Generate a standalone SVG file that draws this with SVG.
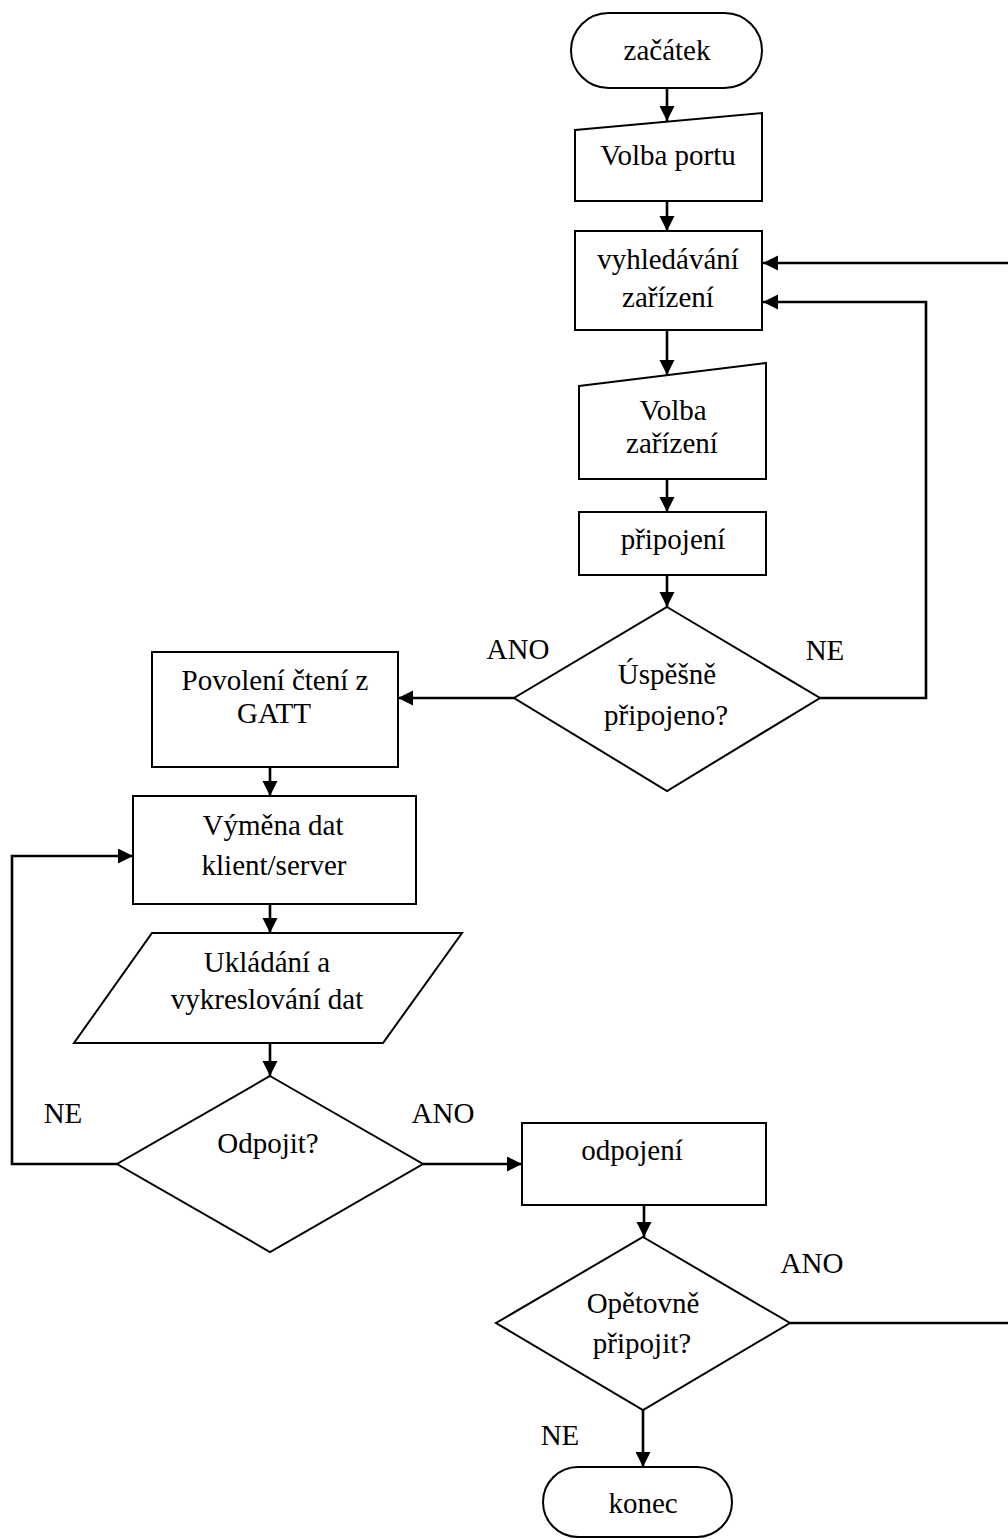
<svg xmlns="http://www.w3.org/2000/svg" width="1008" height="1539" viewBox="0 0 1008 1539">
  <defs>
    <marker id="arrow" markerUnits="userSpaceOnUse" markerWidth="16" markerHeight="16" refX="15" refY="7.5" orient="auto">
      <path d="M0,0 L15,7.5 L0,15 z" fill="#000"/>
    </marker>
    <style>
      .shape { fill: #fff; stroke: #000; stroke-width: 2; }
      .conn { fill: none; stroke: #000; stroke-width: 2.6; }
      .arr { marker-end: url(#arrow); }
      .c { text-anchor: middle; }
    </style>
  </defs>
  <rect width="1008" height="1539" fill="#fff"/>

  <!-- connectors -->
  <g id="connectors">
    <path class="conn arr" d="M667,88 V121"/>
    <path class="conn arr" d="M667,201 V231"/>
    <path class="conn arr" d="M667,330 V375"/>
    <path class="conn arr" d="M667,479 V512"/>
    <path class="conn arr" d="M667,575 V607"/>
    <path class="conn arr" d="M514,698 H398"/>
    <path class="conn arr" d="M820,698 H926 V302 H763"/>
    <path class="conn arr" d="M270,767 V796"/>
    <path class="conn arr" d="M270,904 V933"/>
    <path class="conn arr" d="M270,1043 V1076"/>
    <path class="conn arr" d="M117,1164 H12 V856 H133"/>
    <path class="conn arr" d="M423,1164 H522"/>
    <path class="conn arr" d="M644,1205 V1237"/>
    <path class="conn arr" d="M790,1323 H1014 V263 H763"/>
    <path class="conn arr" d="M643,1410 V1467"/>
  </g>

  <g font-family="Liberation Serif, Times New Roman, serif" font-size="29" fill="#000">
    <!-- branch labels -->
    <g id="labels">
      <text class="c" x="518" y="659">ANO</text>
      <text class="c" x="825" y="660">NE</text>
      <text class="c" x="63" y="1123">NE</text>
      <text class="c" x="443" y="1123">ANO</text>
      <text class="c" x="812" y="1273">ANO</text>
      <text class="c" x="560" y="1445">NE</text>
    </g>

    <g id="start">
      <rect class="shape" x="571" y="13" width="191" height="75" rx="37.5"/>
      <text class="c" x="667" y="60">začátek</text>
    </g>

    <g id="port">
      <path class="shape" d="M575,130 L762,113 V201 H575 Z"/>
      <text class="c" x="668" y="165">Volba portu</text>
    </g>

    <g id="search">
      <rect class="shape" x="575" y="231" width="187" height="99"/>
      <text class="c" x="668" y="269">vyhledávání</text>
      <text class="c" x="668" y="307">zařízení</text>
    </g>

    <g id="device">
      <path class="shape" d="M579,386 L766,363 V479 H579 Z"/>
      <text class="c" x="673" y="420">Volba</text>
      <text class="c" x="672" y="453">zařízení</text>
    </g>

    <g id="connect">
      <rect class="shape" x="579" y="512" width="187" height="63"/>
      <text class="c" x="673" y="549">připojení</text>
    </g>

    <g id="connected">
      <path class="shape" d="M667,607 L820,698 L667,791 L514,698 Z"/>
      <text class="c" x="667" y="684">Úspěšně</text>
      <text class="c" x="666" y="725">připojeno?</text>
    </g>

    <g id="gatt">
      <rect class="shape" x="152" y="652" width="246" height="115"/>
      <text class="c" x="275" y="690">Povolení čtení z</text>
      <text class="c" x="274" y="723">GATT</text>
    </g>

    <g id="exchange">
      <rect class="shape" x="133" y="796" width="283" height="108"/>
      <text class="c" x="273" y="835">Výměna dat</text>
      <text class="c" x="274" y="875">klient/server</text>
    </g>

    <g id="store">
      <path class="shape" d="M152,933 H462 L383,1043 H74 Z"/>
      <text class="c" x="267" y="972">Ukládání a</text>
      <text class="c" x="267" y="1009">vykreslování dat</text>
    </g>

    <g id="disconnect-q">
      <path class="shape" d="M270,1076 L423,1164 L270,1252 L117,1164 Z"/>
      <text class="c" x="268" y="1153">Odpojit?</text>
    </g>

    <g id="disconnect">
      <rect class="shape" x="522" y="1123" width="244" height="82"/>
      <text class="c" x="632" y="1160">odpojení</text>
    </g>

    <g id="reconnect-q">
      <path class="shape" d="M643,1237 L790,1323 L643,1410 L496,1323 Z"/>
      <text class="c" x="643" y="1313">Opětovně</text>
      <text class="c" x="642" y="1353">připojit?</text>
    </g>

    <g id="end">
      <rect class="shape" x="543" y="1467" width="189" height="70" rx="35"/>
      <text class="c" x="643" y="1513">konec</text>
    </g>
  </g>
</svg>
